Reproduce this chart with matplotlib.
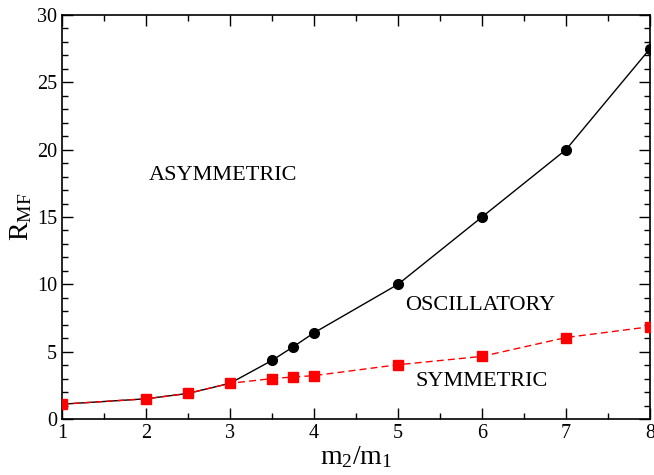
import matplotlib
matplotlib.use("Agg")
import matplotlib.pyplot as plt
from matplotlib.ticker import MultipleLocator

plt.rcParams['font.family'] = ['Liberation Serif', 'DejaVu Serif']
plt.rcParams['mathtext.fontset'] = 'custom'
plt.rcParams['mathtext.rm'] = 'Liberation Serif'
plt.rcParams['mathtext.it'] = 'Liberation Serif'

x_osc = [1, 2, 2.5, 3, 3.5, 3.75, 4, 5, 6, 7, 8]
y_osc = [1.1, 1.5, 1.9, 2.65, 4.35, 5.35, 6.4, 10.0, 15.0, 20.0, 27.5]
x_sym = [1, 2, 2.5, 3, 3.5, 3.75, 4, 5, 6, 7, 8]
y_sym = [1.1, 1.5, 1.9, 2.65, 3.0, 3.12, 3.22, 4.03, 4.65, 6.05, 6.85]

fig = plt.figure(figsize=(6.54, 4.75), dpi=100)
ax = fig.add_axes([62/654, 1 - 419/475, 588/654, 404/475])

ax.plot(x_osc, y_osc, color='black', lw=1, marker='o', ms=7, zorder=2)
ax.plot(x_sym, y_sym, color='red', lw=1, ls=(0, (5, 3)), marker='s', ms=7, zorder=3)

ax.set_xlim(1, 8)
ax.set_ylim(0, 30)
ax.xaxis.set_major_locator(MultipleLocator(1))
ax.xaxis.set_minor_locator(MultipleLocator(0.5))
ax.yaxis.set_major_locator(MultipleLocator(5))
ax.yaxis.set_minor_locator(MultipleLocator(1))
ax.tick_params(which='both', direction='in', top=True, right=True, labelsize=14.5)
ax.tick_params(which='major', length=8, width=1)
ax.tick_params(which='minor', length=4, width=1)
for s in ax.spines.values():
    s.set_linewidth(1.2)

ax.set_xlabel(r'm$_2$/m$_1$', fontsize=20, labelpad=1)
ax.set_ylabel(r'R$_{\rm MF}$', fontsize=20, labelpad=2)

ax.text(2.92, 18.1, 'ASYMMETRIC', fontsize=16, ha='center', va='center')
ax.text(5.98, 8.4, 'OSCILLATORY', fontsize=16, ha='center', va='center')
ax.text(6.0, 2.8, 'SYMMETRIC', fontsize=16, ha='center', va='center')

fig.savefig('out.png', dpi=100)
